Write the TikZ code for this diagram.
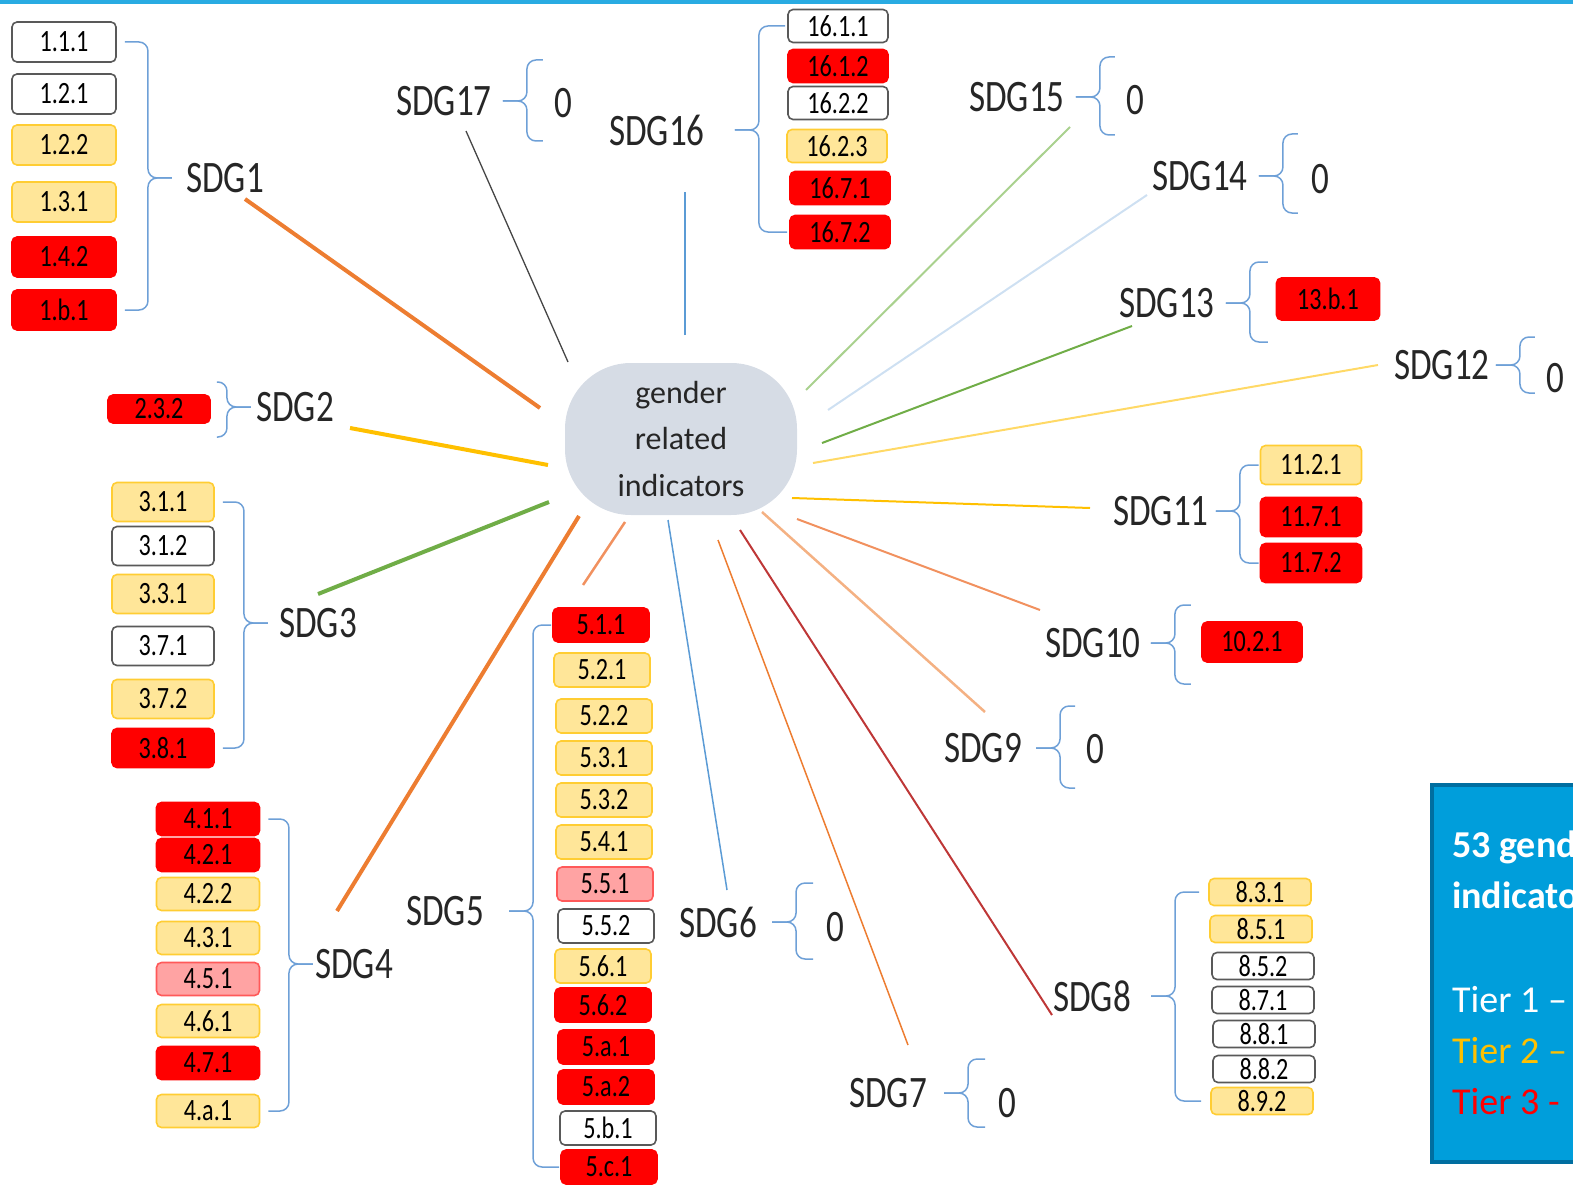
\documentclass[tikz,border=0pt]{standalone}
\usepackage{fontspec}
\setmainfont{Carlito}[FakeStretch=0.78]
\newfontfamily\plainfont{Carlito}
\usetikzlibrary{calc}
\definecolor{TopBlue}{RGB}{41,171,226}
\definecolor{SpokeOrange}{RGB}{237,125,49}
\definecolor{SpokeGold}{RGB}{255,192,0}
\definecolor{SpokeGreen}{RGB}{112,173,71}
\definecolor{SpokeBlue}{RGB}{91,155,213}
\definecolor{PaleBlue}{RGB}{206,224,242}
\definecolor{PaleGreen}{RGB}{169,209,142}
\definecolor{PaleGold}{RGB}{255,217,102}
\definecolor{Salmon}{RGB}{244,177,131}
\definecolor{SoftOrange}{RGB}{241,145,95}
\definecolor{DarkRed}{RGB}{190,55,55}
\definecolor{SlateGray}{RGB}{70,70,70}
\definecolor{TierYellow}{RGB}{255,230,153}
\definecolor{TierPink}{RGB}{255,163,163}
\definecolor{HubGray}{RGB}{214,220,229}
\definecolor{LegendBlue}{RGB}{0,158,219}
\definecolor{LegendEdge}{RGB}{0,110,160}
\definecolor{BraceBlue}{RGB}{110,160,215}
\newcommand\sdgfont{\fontsize{45}{54}\selectfont}
\newcommand\boxfont{\fontsize{31}{31}\selectfont}
\tikzset{
  sdg/.style={inner sep=0pt, font=\sdgfont, text=black!85},
  ind/.style={rounded corners=5pt, line width=1.6pt, inner sep=0pt, font=\boxfont, text=black},
  t1/.style={ind, draw=black!65, fill=white},
  t2/.style={ind, draw=SpokeGold!80, fill=TierYellow},
  t3/.style={ind, draw=red, fill=red},
  tp/.style={ind, draw=red!65, fill=TierPink},
  brc/.style={draw=BraceBlue, line width=1.5pt, rounded corners=9pt},
  hub/.style={fill=HubGray, rounded corners=66pt, minimum width=232pt, minimum height=152pt,
    align=center, font=\plainfont\fontsize{32}{46.5}\selectfont, text=black!85},
  legtxt/.style={anchor=base west, inner sep=0pt, font=\plainfont\fontsize{38}{46}\selectfont, text=white},
  legbold/.style={legtxt, font=\plainfont\bfseries\fontsize{38}{46}\selectfont},
}
% brace: items left of the goal label
\newcommand\braceL[4]{%
  \draw[brc] #3 -| ($(#1.west)+(-#2,0)$) -- ($(#1.west)+(24-#2,0)$);
  \draw[brc] #4 -| ($(#1.west)+(-#2,0)$) -- ($(#1.west)+(24-#2,0)$);}
% brace: items right of the goal label
\newcommand\braceR[4]{%
  \draw[brc] #3 -| ($(#1.east)+(#2,0)$) -- ($(#1.east)+(#2-24,0)$);
  \draw[brc] #4 -| ($(#1.east)+(#2,0)$) -- ($(#1.east)+(#2-24,0)$);}

\begin{document}
\begin{tikzpicture}[x=1pt, y=-1pt]
  \useasboundingbox (0,0) rectangle (1573,1185);
  \clip (0,0) rectangle (1573,1185);
  \fill[TopBlue] (0,0) rectangle (1573,4);

  % spokes
  \foreach \n/\ax/\ay/\bx/\by/\c/\w in {
      1/540/408/245/199/SpokeOrange/4, 2/548/465/350/428/SpokeGold/4,
      3/549/502/318/594/SpokeGreen/4, 4/579/516/337/911/SpokeOrange/4,
      5/625/522/583/585/SoftOrange/2.5, 6/668/520/727/890/SpokeBlue/1.5,
      7/718/540/908/1045/SpokeOrange/1.5, 8/740/530/1052/1015/DarkRed/2,
      9/762/512/985/712/Salmon/2.5, 10/797/519/1040/610/SoftOrange/2,
      11/792/498/1090/508/SpokeGold/2, 12/813/463/1378/365/PaleGold/2,
      13/822/443/1132/326/SpokeGreen/2, 14/828/410/1147/195/PaleBlue/2,
      15/806/390/1070/127/PaleGreen/2, 16/685/335/685/192/SpokeBlue/1.5,
      17/568/362/466/131/SlateGray/1.3}{
    \coordinate (in\n) at (\ax,\ay);
    \coordinate (out\n) at (\bx,\by);
    \draw[\c, line width=\w pt] (in\n) -- (out\n);
  }

  \node[hub] (hub) at (681,439) {gender\\related\\indicators};

  % goal labels
  \foreach \n/\x/\y in {1/225/178, 2/295/407, 3/318/623, 4/354/964, 5/445/911, 6/718/922,
      7/888/1093, 8/1092/996, 9/983/748, 10/1093/643, 11/1161/511, 12/1442/365,
      13/1167/303, 14/1200/176, 15/1017/97, 16/657/130, 17/444/101}
    \node[sdg] (s\n) at (\x,\y) {SDG\n};
  \foreach \n/\x/\y in {17/563/103, 15/1135/100, 14/1320/179, 12/1555/378,
      9/1095/749, 6/835/927, 7/1007/1103}
    \node[sdg] (z\n) at (\x,\y) {0};

  % indicator boxes
  \foreach \lab/\s/\y [count=\k] in {1.1.1/t1/42, 1.2.1/t1/94, 1.2.2/t2/145,
      1.3.1/t2/202, 1.4.2/t3/257, 1.b.1/t3/310}
    \node[\s, minimum width=104pt, minimum height=40pt] (g1-\k) at (64,\y) {\lab};
  \node[t3, minimum width=102pt, minimum height=28pt] (g2-1) at (159,409) {2.3.2};
  \foreach \lab/\s/\y [count=\k] in {3.1.1/t2/502, 3.1.2/t1/546, 3.3.1/t2/594,
      3.7.1/t1/646, 3.7.2/t2/699, 3.8.1/t3/748}
    \node[\s, minimum width=102pt, minimum height=39pt] (g3-\k) at (163,\y) {\lab};
  \foreach \lab/\s/\y [count=\k] in {4.1.1/t3/819, 4.2.1/t3/855, 4.2.2/t2/894,
      4.3.1/t2/938, 4.5.1/tp/979, 4.6.1/t2/1021, 4.7.1/t3/1063, 4.a.1/t2/1111}
    \node[\s, minimum width=103pt, minimum height=33pt] (g4-\k) at (208,\y) {\lab};
  \foreach \lab/\s/\x/\y [count=\k] in {5.1.1/t3/601/625, 5.2.1/t2/602/670,
      5.2.2/t2/604/716, 5.3.1/t2/604/758, 5.3.2/t2/604/800, 5.4.1/t2/604/842,
      5.5.1/tp/605/884, 5.5.2/t1/606/926, 5.6.1/t2/603/966, 5.6.2/t3/603/1005,
      5.a.1/t3/606/1047, 5.a.2/t3/606/1087, 5.b.1/t1/608/1128, 5.c.1/t3/609/1167}
    \node[\s, minimum width=96pt, minimum height=34pt] (g5-\k) at (\x,\y) {\lab};
  \foreach \lab/\s/\x/\y [count=\k] in {8.3.1/t2/1260/892, 8.5.1/t2/1261/929,
      8.5.2/t1/1263/966, 8.7.1/t1/1263/1000, 8.8.1/t1/1264/1034,
      8.8.2/t1/1264/1069, 8.9.2/t2/1262/1101}
    \node[\s, minimum width=102pt, minimum height=27pt] (g8-\k) at (\x,\y) {\lab};
  \node[t3, minimum width=100pt, minimum height=40pt] (g10-1) at (1252,642) {10.2.1};
  \foreach \lab/\s/\y [count=\k] in {11.2.1/t2/465, 11.7.1/t3/517, 11.7.2/t3/563}
    \node[\s, minimum width=101pt, minimum height=39pt] (g11-\k) at (1311,\y) {\lab};
  \node[t3, minimum width=103pt, minimum height=42pt] (g13-1) at (1328,299) {13.b.1};
  \foreach \lab/\s/\x/\y [count=\k] in {16.1.1/t1/838/26, 16.1.2/t3/838/66,
      16.2.2/t1/838/103, 16.2.3/t2/837/146, 16.7.1/t3/840/188, 16.7.2/t3/840/232}
    \node[\s, minimum width=100pt, minimum height=33pt] (g16-\k) at (\x,\y) {\lab};

  % braces
  \braceL{s1}{38}{([xshift=8pt]g1-1.east)}{([xshift=8pt]g1-6.east)}
  \braceL{s2}{29}{($(s2.west)+(-39,-25)$)}{($(s2.west)+(-39,30)$)}
  \braceL{s3}{35}{([xshift=8pt]g3-1.east)}{([xshift=8pt]g3-6.east)}
  \braceL{s4}{26}{([xshift=8pt]g4-1.east)}{([xshift=8pt]g4-8.east)}
  \braceR{s5}{49}{([xshift=-1pt]g5-1.west)}{([xshift=-1pt]g5-14.west)}
  \braceR{s6}{39}{($(s6.east)+(56,-39)$)}{($(s6.east)+(56,37)$)}
  \braceR{s7}{41}{($(s7.east)+(58,-34)$)}{($(s7.east)+(58,34)$)}
  \braceR{s8}{44}{([xshift=-9pt]g8-1.west)}{([xshift=-9pt]g8-7.west)}
  \braceR{s9}{38}{($(s9.east)+(53,-42)$)}{($(s9.east)+(53,40)$)}
  \braceR{s10}{34}{($(s10.east)+(50,-38)$)}{($(s10.east)+(50,41)$)}
  \braceR{s11}{31}{([xshift=-1pt]g11-1.west)}{([xshift=-1pt]g11-3.west)}
  \braceR{s12}{30}{($(s12.east)+(45,-28)$)}{($(s12.east)+(45,28)$)}
  \braceR{s13}{35}{($(s13.east)+(53,-41)$)}{($(s13.east)+(53,39)$)}
  \braceR{s14}{35}{($(s14.east)+(50,-42)$)}{($(s14.east)+(50,37)$)}
  \braceR{s15}{35}{($(s15.east)+(50,-40)$)}{($(s15.east)+(50,38)$)}
  \braceR{s16}{54}{([xshift=-2pt]g16-1.west)}{([xshift=-2pt]g16-6.west)}
  \braceR{s17}{35}{($(s17.east)+(51,-41)$)}{($(s17.east)+(51,40)$)}

  % legend
  \node[draw=LegendEdge, line width=4pt, fill=LegendBlue, anchor=north west,
    minimum width=300pt, minimum height=377pt] (leg) at (1430,783) {};
  \node[legbold] (lg1) at (1452,857) {53 gender};
  \node[legbold] (lg2) at (1452,908) {indicators};
  \node[legtxt] (lg3) at (1452,1012) {Tier 1 –};
  \node[legtxt, text=SpokeGold] (lg4) at (1452,1063) {Tier 2 –};
  \node[legtxt, text=red] (lg5) at (1452,1114) {Tier 3 -};
\end{tikzpicture}
\end{document}
